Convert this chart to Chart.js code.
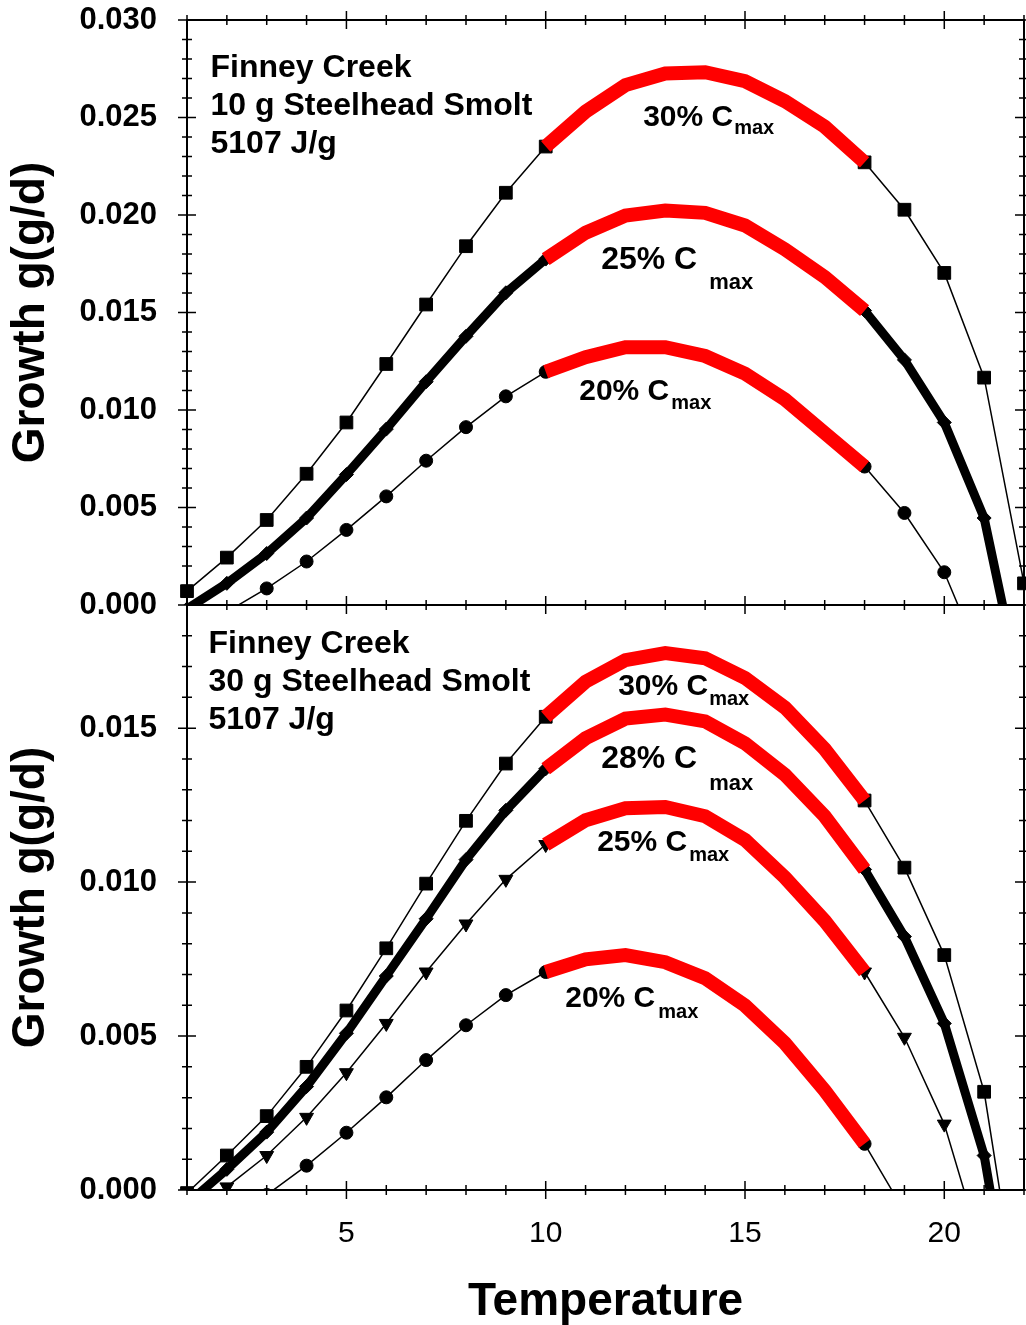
<!DOCTYPE html>
<html>
<head>
<meta charset="utf-8">
<script src="https://cdn.jsdelivr.net/npm/chart.js@4.4.0/dist/chart.umd.min.js"></script>
<style>
  html, body { margin: 0; padding: 0; background: #fff; }
  #growth { display: block; }
</style>
</head>
<body>
<canvas id="growth" width="1026" height="1325"></canvas>
<script>
const FONT = '"Liberation Sans", Arial, Helvetica, sans-serif';

const temps = [1, 2, 3, 4, 5, 6, 7, 8, 9, 10, 11, 12, 13, 14, 15, 16, 17, 18, 19, 20, 21, 22];

// 10 g smolt, growth at 30 / 25 / 20 % of Cmax
const top30 = [0.00071, 0.00243, 0.00436, 0.00673, 0.00936, 0.01236, 0.01541, 0.0184, 0.02114, 0.02351,
               0.0253, 0.02666, 0.02726, 0.02732, 0.02686, 0.02584, 0.02453, 0.0227, 0.02027, 0.01703, 0.01166, 0.00111];
const top25 = [-0.0002, 0.00111, 0.00264, 0.00446, 0.00669, 0.00902, 0.01145, 0.01378, 0.01601, 0.01774,
               0.01909, 0.01997, 0.02023, 0.02011, 0.01946, 0.01824, 0.01682, 0.0151, 0.01257, 0.00936, 0.00446, -0.0052];
const top20 = [-0.0016, -0.00035, 0.00085, 0.00223, 0.00385, 0.00557, 0.0074, 0.00912, 0.0107, 0.01196,
               0.01271, 0.01322, 0.01322, 0.01277, 0.01186, 0.01054, 0.00882, 0.0071, 0.00472, 0.00168, -0.0032, -0.009];

// 30 g smolt, growth at 30 / 28 / 25 / 20 % of Cmax
const bot30 = [-0.0001, 0.00112, 0.0024, 0.004, 0.00583, 0.00785, 0.00995, 0.01199, 0.01385, 0.01537,
               0.01651, 0.01721, 0.01744, 0.01727, 0.01663, 0.01567, 0.01432, 0.01265, 0.01047, 0.00763, 0.00319, -0.005];
const bot28 = [-0.00045, 0.00067, 0.00188, 0.00336, 0.00509, 0.00695, 0.00881, 0.01073, 0.01233, 0.01368,
               0.01467, 0.01531, 0.01544, 0.01522, 0.01451, 0.01349, 0.01214, 0.01041, 0.00823, 0.00541, 0.00112, -0.0064];
const bot25 = [-0.0012, 0.0001, 0.00112, 0.00236, 0.00381, 0.00541, 0.00708, 0.00864, 0.01009, 0.01122,
               0.01201, 0.0124, 0.01244, 0.01214, 0.01137, 0.01015, 0.00874, 0.00708, 0.00496, 0.00214, -0.0022, -0.0075];
const bot20 = [-0.0022, -0.0012, -0.00016, 0.00079, 0.00186, 0.00301, 0.00422, 0.00535, 0.00633, 0.00708,
               0.00749, 0.00763, 0.0074, 0.00688, 0.00599, 0.00477, 0.00323, 0.0015, -0.0007, -0.003, -0.006, -0.009];

// temperature range drawn in red
const redFrom = 10;
const redTo = 18;

const xTicks = [5, 10, 15, 20];
const yTopTicks = [0, 0.005, 0.010, 0.015, 0.020, 0.025, 0.030];
const yBotTicks = [0, 0.005, 0.010, 0.015];

const clipArea = {left: 12, right: 12, top: 0, bottom: 0};

function series(values, axis, shape, radius, thick, rot) {
    const black = {
        data: temps.map((t, i) => ({x: t, y: (t > redFrom && t < redTo) ? null : values[i]})),
        yAxisID: axis,
        borderColor: '#000',
        borderWidth: thick ? 9 : 1.5,
        pointStyle: shape,
        pointRadius: radius,
        pointRotation: rot || 0,
        pointBackgroundColor: '#000',
        pointBorderColor: '#000',
        pointBorderWidth: 1,
        tension: 0,
        spanGaps: false,
        clip: clipArea
    };
    const red = {
        data: temps.map((t, i) => ({x: t, y: (t >= redFrom && t <= redTo) ? values[i] : null})),
        yAxisID: axis,
        borderColor: '#ff0000',
        borderWidth: 14,
        borderJoinStyle: 'miter',
        borderCapStyle: 'butt',
        pointRadius: 0,
        tension: 0,
        spanGaps: false,
        clip: clipArea
    };
    return [red, black];
}

const all = [
    series(top30, 'yTop', 'rect', 9, false),
    series(top25, 'yTop', 'rectRot', 7, true),
    series(top20, 'yTop', 'circle', 6.5, false),
    series(bot30, 'yBot', 'rect', 9, false),
    series(bot28, 'yBot', 'rectRot', 7, true),
    series(bot25, 'yBot', 'triangle', 8, false, 180),
    series(bot20, 'yBot', 'circle', 6.5, false)
];
// red segments first so they are painted on top
const datasets = all.map(s => s[0]).concat(all.map(s => s[1]));

const notes = [
    {axis: 'yTop', x: 12.444, y: 0.02456, text: '30% C', size: 30, sub: 20, dx: 1, dy: 8},
    {axis: 'yTop', x: 11.391, y: 0.01723, text: '25% C', size: 32, sub: 22, dx: 12, dy: 20},
    {axis: 'yTop', x: 10.840, y: 0.01051, text: '20% C', size: 30, sub: 20, dx: 2, dy: 9},
    {axis: 'yBot', x: 11.817, y: 0.01607, text: '30% C', size: 30, sub: 20, dx: 1, dy: 10},
    {axis: 'yBot', x: 11.391, y: 0.01370, text: '28% C', size: 32, sub: 22, dx: 12, dy: 22},
    {axis: 'yBot', x: 11.291, y: 0.01101, text: '25% C', size: 30, sub: 20, dx: 2, dy: 10},
    {axis: 'yBot', x: 10.489, y: 0.00594, text: '20% C', size: 30, sub: 20, dx: 3, dy: 11}
];

const blocks = [
    {axis: 'yTop', x: 1.59, y: 0.02708, lines: ['Finney Creek', '10 g Steelhead Smolt', '5107 J/g']},
    {axis: 'yBot', x: 1.54, y: 0.01744, lines: ['Finney Creek', '30 g Steelhead Smolt', '5107 J/g']}
];

const frameTicks = {
    id: 'frameTicks',
    afterDatasetsDraw(chart) {
        const {ctx} = chart;
        const x = chart.scales.x, yT = chart.scales.yTop, yB = chart.scales.yBot;
        const L = x.left, R = x.right;
        ctx.save();
        ctx.strokeStyle = '#000';
        ctx.lineWidth = 2;
        ctx.strokeRect(L, yT.top, R - L, yB.bottom - yT.top);
        ctx.beginPath();
        ctx.moveTo(L, yT.bottom);
        ctx.lineTo(R, yT.bottom);
        ctx.stroke();

        ctx.lineWidth = 1.5;
        ctx.beginPath();
        for (let t = 1; t <= 22; t++) {
            const px = x.getPixelForValue(t);
            const len = t % 5 === 0 ? 9 : 5;
            [yT.top, yT.bottom, yB.bottom].forEach(py => {
                ctx.moveTo(px, py - len);
                ctx.lineTo(px, py + len);
            });
        }
        [[yT, 30], [yB, 19]].forEach(([s, n]) => {
            for (let k = 0; k <= n; k++) {
                const py = s.getPixelForValue(k / 1000);
                const len = k % 5 === 0 ? 9 : 5;
                ctx.moveTo(L - len, py); ctx.lineTo(L + len, py);
                ctx.moveTo(R - len, py); ctx.lineTo(R + len, py);
            }
        });
        ctx.stroke();

        ctx.fillStyle = '#000';
        ctx.textAlign = 'left';
        ctx.textBaseline = 'alphabetic';
        notes.forEach(n => {
            const px = x.getPixelForValue(n.x);
            const py = chart.scales[n.axis].getPixelForValue(n.y);
            ctx.font = 'bold ' + n.size + 'px ' + FONT;
            ctx.fillText(n.text, px, py);
            const w = ctx.measureText(n.text).width;
            ctx.font = 'bold ' + n.sub + 'px ' + FONT;
            ctx.fillText('max', px + w + n.dx, py + n.dy);
        });
        ctx.font = 'bold 32px ' + FONT;
        blocks.forEach(b => {
            const px = x.getPixelForValue(b.x);
            const py = chart.scales[b.axis].getPixelForValue(b.y);
            b.lines.forEach((line, i) => ctx.fillText(line, px, py + i * 38));
        });
        ctx.restore();
    }
};

function yAxis(max, ticks, weight) {
    return {
        type: 'linear',
        position: 'left',
        stack: 'panels',
        stackWeight: 1,
        weight: weight,
        min: 0,
        max: max,
        grid: {display: false, drawTicks: false},
        border: {display: false},
        afterBuildTicks: s => { s.ticks = ticks.map(v => ({value: v})); },
        afterFit: s => { s.width = 187; s.paddingTop = 0; s.paddingBottom = 0; },
        ticks: {
            color: '#000',
            padding: 30,
            font: {family: FONT, size: 31, weight: 'bold'},
            callback: v => v.toFixed(3)
        },
        title: {
            display: true,
            text: 'Growth g(g/d)',
            color: '#000',
            font: {family: FONT, size: 46, weight: 'bold'},
            padding: {top: 4, bottom: 0}
        }
    };
}

new Chart(document.getElementById('growth').getContext('2d'), {
    type: 'line',
    data: {datasets: datasets},
    options: {
        responsive: false,
        animation: false,
        devicePixelRatio: 1,
        layout: {autoPadding: false, padding: {top: 20, right: 2, left: 0, bottom: 0}},
        plugins: {legend: {display: false}, tooltip: {enabled: false}},
        scales: {
            x: {
                type: 'linear',
                position: 'bottom',
                min: 1,
                max: 22,
                grid: {display: false, drawTicks: false},
                border: {display: false},
                afterBuildTicks: s => { s.ticks = xTicks.map(v => ({value: v})); },
                afterFit: s => { s.height = 135; s.paddingLeft = 0; s.paddingRight = 0; },
                ticks: {color: '#000', padding: 26, maxRotation: 0, font: {family: FONT, size: 30}},
                title: {
                    display: true,
                    text: 'Temperature',
                    color: '#000',
                    font: {family: FONT, size: 46, weight: 'bold', lineHeight: 1},
                    padding: {top: 0, bottom: 0}
                }
            },
            yTop: yAxis(0.030, yTopTicks, 2),
            yBot: yAxis(0.019, yBotTicks, 1)
        }
    },
    plugins: [frameTicks]
});
</script>
</body>
</html>
